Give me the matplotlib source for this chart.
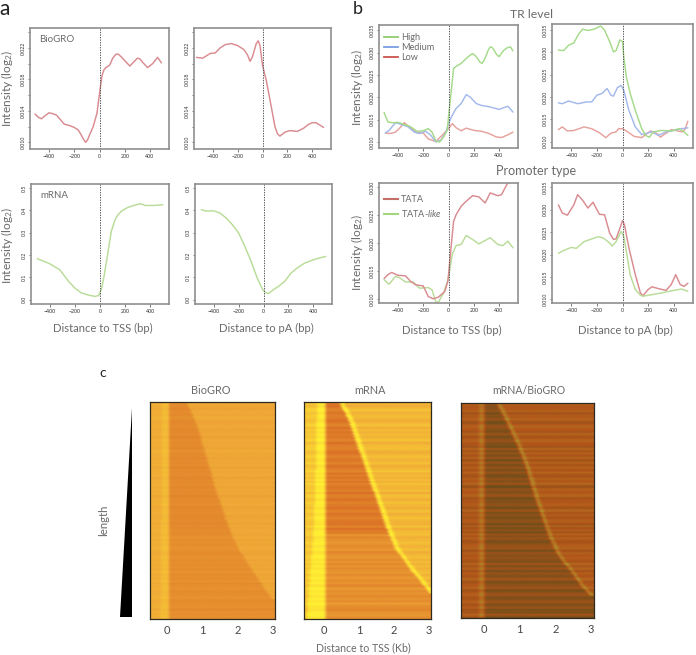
import numpy as np
import matplotlib
matplotlib.use("Agg")
import matplotlib.pyplot as plt
from matplotlib.colors import LinearSegmentedColormap
from matplotlib.lines import Line2D

plt.rcParams['font.family'] = ['Lato', 'DejaVu Sans']
plt.rcParams['mathtext.fontset'] = 'custom'
plt.rcParams['mathtext.rm'] = 'Lato'
plt.rcParams['mathtext.it'] = 'Lato:italic'
plt.rcParams['mathtext.default'] = 'regular'
W, H = 696, 655
TXT = '#6a6a6a'

# ---------- panel a ----------
a1_x = [-510,-485,-460,-430,-400,-370,-340,-310,-280,-240,-200,-170,-150,-130,-110,-95,-80,-50,-20,0,20,35,50,80,105,130,150,170,205,240,270,300,320,340,380,420,460,490]
a1_y = [.0136,.0132,.0130,.0134,.01376,.01365,.01346,.0129,.01232,.01215,.0119,.0116,.0111,.0105,.0100,.0103,.0109,.0120,.0137,.0162,.0185,.0192,.0195,.0198,.0207,.0212,.0212,.0209,.0203,.0197,.0202,.0207,.0206,.0202,.0195,.0200,.0208,.0201]
a2_x = [-530,-480,-420,-380,-340,-300,-250,-200,-150,-120,-100,-80,-50,-35,-20,0,30,60,100,120,140,180,220,280,330,370,400,430,490]
a2_y = [.0208,.0207,.0213,.02136,.0220,.02242,.02255,.0223,.0218,.0211,.0203,.0209,.02255,.0229,.0223,.0198,.0179,.0154,.0120,.0111,.0108,.0113,.0115,.0114,.0118,.0123,.0125,.0125,.0119]
a3_x = [-500,-400,-320,-250,-200,-150,-100,-40,-10,10,30,60,90,120,140,170,220,270,320,360,430,500]
a3_y = [.184,.161,.134,.082,.052,.031,.022,.015,.019,.045,.097,.2,.306,.358,.378,.396,.413,.422,.43,.422,.422,.425]
a4_x = [-500,-460,-400,-350,-300,-250,-200,-150,-100,-50,-20,0,20,40,80,130,170,220,270,330,400,450,500]
a4_y = [.403,.397,.398,.388,.366,.336,.299,.239,.172,.097,.06,.04,.031,.028,.045,.064,.082,.119,.142,.164,.179,.187,.194]

# ---------- panel b, TR level ----------
b1_high_x = [-510,-480,-440,-400,-360,-300,-250,-200,-160,-130,-100,-70,-40,-10,0,20,40,70,100,140,165,190,210,230,248,265,282,300,315,330,345,360,380,400,420,440,465,490,510]
b1_high_y = [.0166,.0145,.0143,.0144,.014,.0134,.0124,.0125,.013,.0122,.0102,.010,.0111,.0126,.0156,.0209,.0265,.0271,.0276,.0287,.0293,.0298,.0294,.0287,.0279,.0276,.0283,.0295,.0306,.0313,.0312,.0306,.0296,.0291,.0299,.0306,.0311,.0313,.0304]
b1_med_x = [-500,-470,-420,-380,-320,-270,-230,-180,-140,-100,-60,-20,0,30,60,100,140,170,220,260,320,400,470,510]
b1_med_y = [.012,.0126,.0143,.014,.0134,.0122,.0119,.0124,.0115,.010,.0104,.0122,.0141,.016,.0175,.0186,.0206,.0201,.0186,.0182,.0179,.0173,.018,.0167]
b1_low_x = [-500,-460,-420,-390,-350,-310,-260,-200,-160,-100,-50,0,30,60,100,140,200,260,320,380,420,470,510]
b1_low_y = [.012,.0119,.0122,.013,.0143,.0134,.0122,.012,.0107,.0101,.0115,.013,.0141,.0132,.0125,.0131,.0126,.0124,.0119,.0111,.011,.0116,.0122]
b2_high_x = [-500,-460,-420,-380,-340,-310,-270,-220,-170,-140,-100,-70,-50,-20,0,10,30,60,100,150,180,210,240,300,380,440,480,510]
b2_high_y = [.0305,.0304,.0316,.0321,.0342,.0352,.0349,.0352,.0359,.035,.0324,.0301,.0304,.0328,.0324,.029,.0245,.0208,.017,.0129,.0114,.011,.0122,.0125,.0124,.0129,.0122,.0114]
b2_med_x = [-500,-470,-420,-350,-280,-240,-200,-160,-120,-90,-70,-40,-10,10,50,100,150,190,230,280,340,400,460,510]
b2_med_y = [.0187,.0185,.0191,.0185,.0189,.0189,.0204,.0208,.0219,.0204,.0202,.0221,.0226,.0215,.017,.0133,.0116,.0119,.0122,.0114,.0122,.0125,.0129,.0131]
b2_low_x = [-500,-470,-430,-380,-300,-240,-180,-130,-90,-50,-30,0,40,90,150,190,220,270,295,340,380,430,470,490,510]
b2_low_y = [.0127,.0133,.0124,.0125,.0133,.0129,.012,.0109,.0119,.0122,.0129,.0129,.0122,.0112,.0109,.0118,.0124,.0118,.011,.0119,.0127,.0124,.0122,.0129,.0146]

# ---------- panel b, promoter type ----------
b3_tata_x = [-510,-480,-450,-400,-340,-300,-260,-200,-160,-120,-80,-30,-5,20,40,60,100,130,190,240,290,330,390,420,450,470,510]
b3_tata_y = [.0137,.0144,.0148,.0143,.0142,.0132,.0126,.0124,.0105,.0101,.0104,.0114,.0132,.0192,.0239,.0251,.0266,.0273,.0285,.0283,.0272,.029,.0285,.0287,.030,.0308,.0323]
b3_like_x = [-510,-470,-420,-390,-340,-280,-230,-160,-130,-100,-80,-40,0,30,60,100,140,190,240,290,330,390,430,470,510]
b3_like_y = [.0135,.0127,.0141,.0139,.0131,.0131,.012,.0121,.0117,.0095,.0095,.0111,.0138,.018,.0196,.0198,.0214,.0207,.0199,.0205,.021,.0198,.0196,.0204,.0192]
b4_tata_x = [-500,-470,-430,-380,-350,-310,-270,-230,-180,-140,-100,-70,-50,-20,0,15,50,100,140,160,200,230,280,340,380,415,450,480,510]
b4_tata_y = [.0311,.0293,.0288,.0311,.0334,.0321,.0304,.0317,.029,.0289,.0248,.0234,.0235,.0259,.0276,.0267,.0215,.0155,.0114,.0108,.0122,.0128,.0124,.012,.0133,.0155,.0133,.0129,.0136]
b4_like_x = [-500,-460,-400,-360,-300,-240,-190,-150,-100,-80,-50,-10,10,30,60,100,140,160,220,300,380,460,510]
b4_like_y = [.0203,.0209,.0216,.0214,.0229,.0235,.024,.0237,.0226,.0219,.0229,.0252,.0241,.0207,.0155,.0122,.0109,.0107,.011,.0114,.0119,.0123,.0118]

# ---------- panel c: transcript-end position per row, top to bottom (Kb) ----------
c1_end = [.55,.58,.62,.66,.70,.74,.78,.82,.85,.87,.90,.93,.96,.98,1.0,1.03,1.06,1.08,1.11,1.13,1.15,1.18,1.2,1.23,1.26,1.28,1.3,1.33,1.35,1.38,1.41,1.44,1.47,1.5,1.53,1.56,1.59,1.62,1.64,1.67,1.7,1.73,1.77,1.8,1.84,1.88,1.92,1.96,2.0,2.05,2.11,2.17,2.22,2.28,2.33,2.39,2.45,2.5,2.56,2.62,2.68,2.73,2.79,2.85,2.92,2.98,3.2,3.2,3.2,3.2,3.2,3.2]
c2_end = [.4,.45,.5,.55,.6,.64,.68,.72,.75,.78,.81,.84,.87,.9,.93,.96,.99,1.02,1.05,1.08,1.11,1.14,1.17,1.2,1.23,1.26,1.29,1.32,1.35,1.38,1.42,1.45,1.48,1.51,1.54,1.57,1.6,1.63,1.66,1.69,1.72,1.75,1.78,1.82,1.85,1.89,1.93,1.96,2.0,2.06,2.12,2.18,2.24,2.3,2.36,2.43,2.5,2.57,2.65,2.72,2.79,2.86,2.93,3.0,3.2,3.2,3.2,3.2,3.2,3.2,3.2,3.2]
c3_end = [.37,.41,.46,.5,.55,.59,.63,.67,.71,.75,.79,.83,.87,.91,.95,.98,1.01,1.05,1.08,1.11,1.14,1.17,1.2,1.23,1.25,1.28,1.3,1.33,1.35,1.38,1.41,1.43,1.46,1.49,1.52,1.55,1.58,1.6,1.63,1.66,1.69,1.72,1.75,1.78,1.81,1.85,1.89,1.93,1.97,2.01,2.05,2.1,2.16,2.23,2.3,2.37,2.43,2.5,2.56,2.62,2.68,2.74,2.82,2.9,2.98,3.2,3.2,3.2,3.2,3.2,3.2,3.2]
# row brightness offsets (-3..3), estimated from the streaks
c1_rows = [0,1,-1,1,0,2,0,-1,1,-1,0,1,-2,1,0,-1,2,0,1,-1,0,2,-1,0,1,-2,1,0,-1,1,0,-2,1,0,2,-1,0,1,-1,0,-2,1,0,1,-1,2,0,-1,1,0,-2,1,0,1,-1,0,2,-1,0,1,-2,0,1,-1,0,1,-1,0,1,-1,0,1]
c2_rows = [1,-1,0,2,-1,1,-2,0,2,-1,-2,1,0,2,-1,1,0,-2,2,-1,1,-2,0,3,-1,-2,1,2,-1,0,-3,2,-1,1,0,-2,2,-2,1,0,-1,2,-3,1,2,-2,0,1,-1,2,-2,1,-1,2,0,-2,1,-1,2,-1,1,-2,2,0,-1,1,-1,2,-1,-2,1,0]
c3_rows = [1,-1,0,-2,1,2,-2,0,1,-1,2,-2,1,0,-1,2,-2,0,2,-3,1,0,-1,2,-2,1,-1,2,-3,1,0,2,-2,-1,1,-3,2,0,-2,1,-1,2,-1,-3,1,2,-2,0,1,-2,2,-1,0,-2,1,2,-3,1,-1,2,-2,0,1,-1,2,-2,1,-1,1,-3,-2,1]
# mottling across a row, estimated from the grain of the maps
grain = [1,-2,0,2,-1,3,-2,0,1,-3,2,0,-1,2,-2,1,3,-1,0,-2,2,-3,1]
# start of the bright TSS band at six heights of the map
c1_band_start = [-.15, -.15, -.16, -.17, -.18, -.20]
c2_band_start = [-.22, -.24, -.27, -.32, -.42, -.50]
c3_band_start = [-.15, -.15, -.15, -.15, -.15, -.15]

c_ticks = [0, 1, 2, 3]
c1_levels = dict(left=.52, band=.62, inside=.26, inside_low=.29, ridge=.47, outside=.47)
c2_levels = dict(left=.72, band=.97, inside=.14, inside_low=.30, ridge=.95, outside=.60)
c3_levels = dict(left=.50, band=.72, inside=.27, inside_low=.30, ridge=.88, outside=.52)


def box(l, t, r, b):
    return fig.add_axes([l / W, 1 - b / H, (r - l) / W, (b - t) / H])


def label(x, y, s, size=8, rot=0, color=TXT, **kw):
    fig.text(x / W, 1 - y / H, s, fontsize=size, rotation=rot, color=color,
             ha='center', va='center', **kw)


def line_panel(pos, ylim, yticks, ylabeled, series):
    ax = box(*pos)
    for x, y, c in series:
        ax.plot(x, y, color=c, lw=1.05, solid_capstyle='round', solid_joinstyle='round')
    ax.axvline(0, color='#555555', lw=.7, ls=(0, (1.4, 1.2)))
    ax.set_xlim(-550, 550)
    ax.set_ylim(*ylim)
    ax.set_xticks([-400, -200, 0, 200, 400])
    ax.set_yticks(yticks)
    ax.set_yticklabels([ylabeled(v) for v in yticks], rotation=90, va='center')
    ax.tick_params(labelsize=3.8, length=1.8, width=.5, pad=1.5, color='#444444', labelcolor='#333333')
    for s in ax.spines.values():
        s.set_color('#8f8f8f')
        s.set_linewidth(1.2)
    return ax


RED, GRN = '#d98b90', '#b9dc98'
tk_a = [.010, .012, .014, .016, .018, .020, .022, .024]
lab_a = lambda v: f'{v:.3f}' if round(v * 1000) in (10, 14, 18, 22) else ''
tk_m = [0, .1, .2, .3, .4, .5]
lab_m = lambda v: f'{v:.1f}'
tk_b = [.010, .015, .020, .025, .030, .035]
tk_b3 = [.010, .015, .020, .025, .030]
lab_b = lambda v: f'{v:.3f}'

fig = plt.figure(figsize=(W / 100, H / 100), dpi=100)

line_panel((30, 28, 169, 149), (.00916, .02453), tk_a, lab_a, [(a1_x, a1_y, RED)])
line_panel((194, 28, 331, 149), (.00916, .02453), tk_a, lab_a, [(a2_x, a2_y, RED)])
line_panel((31, 184, 169, 304), (-.019, .518), tk_m, lab_m, [(a3_x, a3_y, GRN)])
line_panel((195, 184, 332, 304), (-.019, .518), tk_m, lab_m, [(a4_x, a4_y, GRN)])

G2, B2, R2 = '#a5da8b', '#a3b9ec', '#e6a29c'
ax = line_panel((379, 25, 518, 148), (.00865, .0362), tk_b, lab_b,
                [(b1_low_x, b1_low_y, R2), (b1_med_x, b1_med_y, B2), (b1_high_x, b1_high_y, G2)])
ax.legend(handles=[Line2D([], [], color='#8fcb6c', lw=1.3), Line2D([], [], color='#7b9de2', lw=1.3),
                   Line2D([], [], color='#c9544c', lw=1.3)],
          labels=['High', 'Medium', 'Low'], frameon=False, loc='upper left', fontsize=6.6,
          labelcolor=TXT, handlelength=1.45, handletextpad=.35, labelspacing=.1,
          borderaxespad=0, bbox_to_anchor=(.012, .965))
line_panel((552, 24, 693, 148), (.00858, .03635), tk_b, lab_b,
           [(b2_low_x, b2_low_y, R2), (b2_med_x, b2_med_y, B2), (b2_high_x, b2_high_y, G2)])
ax = line_panel((379, 183, 518, 303), (.00935, .03077), tk_b3, lab_b,
                [(b3_like_x, b3_like_y, GRN), (b3_tata_x, b3_tata_y, RED)])
ax.legend(handles=[Line2D([], [], color='#c4706a', lw=1.5), Line2D([], [], color='#a3d67f', lw=1.5)],
          labels=['TATA', 'TATA-$\\mathit{like}$'], frameon=False, loc='upper left', fontsize=6.6,
          labelcolor=TXT, handlelength=1.45, handletextpad=.35, labelspacing=.45,
          borderaxespad=0, bbox_to_anchor=(.012, .93))
line_panel((552, 183, 693, 303), (.00918, .036), tk_b, lab_b,
           [(b4_tata_x, b4_tata_y, RED), (b4_like_x, b4_like_y, GRN)])

# ---------- heat maps ----------
warm = LinearSegmentedColormap.from_list('warm', ['#d76923', '#f0aa37', '#ffee32'])
dark = LinearSegmentedColormap.from_list('dark', ['#554b19', '#b45519', '#b09a2d'])
NCOL = 125
SOFT = np.array([1, 2, 3, 2, 1]) / 9


def heat(pos, xlim, ends, rows, lv, band_start, band_end, ridge_w, amp, gr, cmap):
    ax = box(*pos)
    x = np.linspace(xlim[0], xlim[1], NCOL)
    n = len(ends)
    m = np.zeros((2 * n, NCOL))
    heights = np.linspace(0, n - 1, len(band_start))

    def profile(i, e):
        inside = lv['inside'] if i < 44 else lv['inside_low']
        row = np.full(NCOL, lv['outside'], dtype=float)
        row[x < e + ridge_w] = lv['ridge']
        row[x < e] = inside
        row[x < band_end] = lv['band']
        row[x < np.interp(i, heights, band_start)] = lv['left']
        pad = np.pad(row, 2, mode='edge')
        return np.convolve(pad, SOFT, mode='valid')

    for i, e in enumerate(ends):
        nxt = ends[min(i + 1, n - 1)]
        for k, (edge, off) in enumerate(((e, rows[i]), ((e + nxt) / 2, rows[(i + 29) % n]))):
            r = 2 * i + k
            tex = np.array([grain[(j + 7 * r) % len(grain)] for j in range(NCOL)])
            m[r] = profile(i, edge) + amp * off + gr * tex
    ax.imshow(m, aspect='auto', cmap=cmap, vmin=0, vmax=1, interpolation='bilinear',
              extent=(xlim[0], xlim[1], n, 0))
    ax.set_yticks([])
    ax.set_xticks(c_ticks)
    ax.tick_params(axis='x', length=0, labelsize=8, labelcolor='#444444', pad=4)
    for s in ax.spines.values():
        s.set_color('#2e2a20')
        s.set_linewidth(.9)
    return ax


heat((150, 402, 275, 619), (-.48, 3.05), c1_end, c1_rows, c1_levels, c1_band_start, .04, .05, .018, .007, warm)
heat((304, 402, 431, 619), (-.58, 3.06), c2_end, c2_rows, c2_levels, c2_band_start, .02, .14, .032, .003, warm)
heat((461, 403, 594, 618), (-.64, 3.08), c3_end, c3_rows, c3_levels, c3_band_start, -.01, .1, .045, .012, dark)

# length wedge
wedge = box(120, 408, 132, 617)
wedge.fill([0, 1, 1], [0, 1, 0], color='black', lw=0)
wedge.set_xlim(0, 1)
wedge.set_ylim(0, 1)
wedge.axis('off')

# ---------- text ----------
label(4.5, 9, 'a', 15, color='#222222')
label(358, 8.5, 'b', 13, color='#222222')
label(103, 373, 'c', 10, color='#222222')
label(531, 14, 'TR level', 8.8)
label(536, 171, 'Promoter type', 9)
label(57, 39, 'BioGRO', 7)
label(54, 196, 'mRNA', 7)
YL = 'Intensity (log$_2$)'
label(7, 88, YL, 8.6, 90)
label(7, 245, YL, 8.6, 90)
label(357, 87, YL, 8.6, 90)
label(357, 252, YL, 8.6, 90)
label(103, 328, 'Distance to TSS (bp)', 8.1)
label(266, 328, 'Distance to pA (bp)', 8.1)
label(452, 330, 'Distance to TSS (bp)', 8.1)
label(625, 330, 'Distance to pA (bp)', 8.1)
label(211, 391, 'BioGRO', 7.8)
label(370, 391, 'mRNA', 7.8)
label(529, 391, 'mRNA/BioGRO', 7.6)
label(104, 520, 'length', 8.2, 90)
label(363, 648, 'Distance to TSS (Kb)', 7.6)

fig.savefig('out.png', dpi=100)
